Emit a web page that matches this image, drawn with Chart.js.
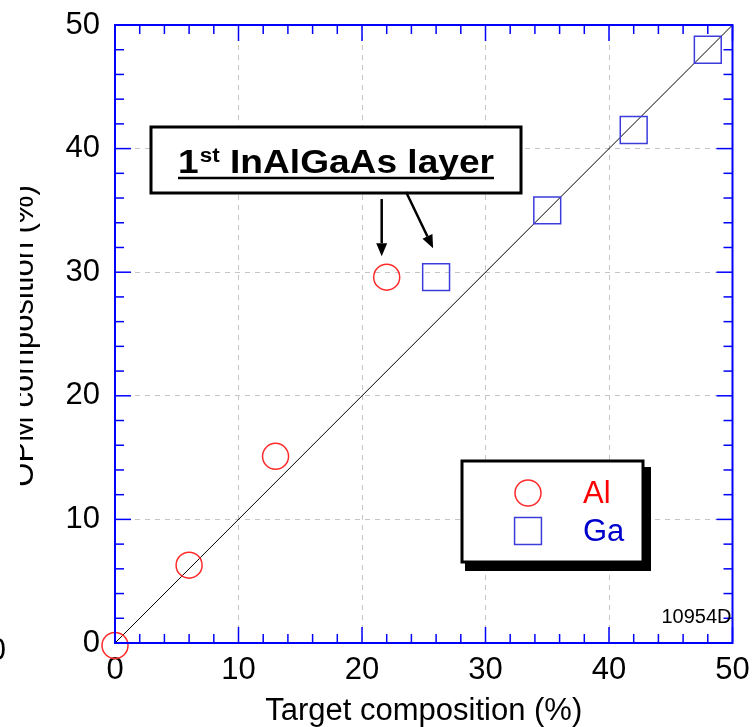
<!DOCTYPE html>
<html>
<head>
<meta charset="utf-8">
<script src="https://cdn.jsdelivr.net/npm/chart.js@4.4.0/dist/chart.umd.min.js"></script>
<style>
  html, body { margin: 0; padding: 0; background: #fff; }
  #grafico { display: block; }
</style>
</head>
<body>
<canvas id="grafico" width="753" height="727"></canvas>
<script>
// Dados
const alTarget = [0, 6, 13, 22];
const alOpm = [-0.2, 6.3, 15.1, 29.6];
const gaTarget = [26, 35, 42, 48];
const gaOpm = [29.6, 35, 41.5, 48];
const idealX = [0, 50];
const idealY = [0, 50];
const axisTicks = [0, 10, 20, 30, 40, 50];

const FONTE = '"Liberation Sans", Arial, sans-serif';
const AZUL = "#0000ff";

function pontos(xs, ys) {
  return xs.map((v, i) => ({ x: v, y: ys[i] }));
}

function linha(ctx, x1, y1, x2, y2) {
  ctx.beginPath();
  ctx.moveTo(x1, y1);
  ctx.lineTo(x2, y2);
  ctx.stroke();
}

function seta(ctx, x1, y1, x2, y2) {
  const ang = Math.atan2(y2 - y1, x2 - x1);
  const cab = 13;
  const bx = x2 - cab * Math.cos(ang);
  const by = y2 - cab * Math.sin(ang);
  ctx.lineWidth = 2.5;
  linha(ctx, x1, y1, bx, by);
  ctx.beginPath();
  ctx.moveTo(x2, y2);
  ctx.lineTo(bx + 5.5 * Math.sin(ang), by - 5.5 * Math.cos(ang));
  ctx.lineTo(bx - 5.5 * Math.sin(ang), by + 5.5 * Math.cos(ang));
  ctx.closePath();
  ctx.fill();
}

// Moldura azul, ticks internos, legenda, anotação
const extras = {
  id: "extras",
  afterDraw(chart) {
    const { ctx, chartArea: a, scales } = chart;
    const x = scales.x, y = scales.y;
    ctx.save();

    // ticks menores e maiores nos quatro lados
    ctx.strokeStyle = AZUL;
    ctx.lineWidth = 1.5;
    for (let v = 0; v <= 50; v += 2) {
      const len = v % 10 === 0 ? 16 : 9;
      const px = x.getPixelForValue(v);
      const py = y.getPixelForValue(v);
      linha(ctx, px, a.bottom, px, a.bottom - len);
      linha(ctx, px, a.top, px, a.top + len);
      linha(ctx, a.left, py, a.left + len, py);
      linha(ctx, a.right, py, a.right - len, py);
    }
    ctx.lineWidth = 2;
    ctx.strokeRect(a.left, a.top, a.right - a.left, a.bottom - a.top);

    // título do eixo y (cortado na borda como no original)
    ctx.save();
    ctx.beginPath();
    ctx.rect(20, 0, 100, 727);
    ctx.clip();
    ctx.translate(33, (a.top + a.bottom) / 2 + 2);
    ctx.rotate(-Math.PI / 2);
    ctx.fillStyle = "#000";
    ctx.font = "31px " + FONTE;
    ctx.textAlign = "center";
    ctx.textBaseline = "alphabetic";
    ctx.fillText("OPM composition (%)", 0, 0);
    ctx.restore();

    // fragmento à esquerda
    ctx.fillStyle = "#000";
    ctx.font = "31px " + FONTE;
    ctx.textAlign = "right";
    ctx.textBaseline = "middle";
    ctx.fillText("0", 6, a.bottom + 8);

    // caixa "1st InAlGaAs layer"
    const bx1 = a.left + 36, by1 = a.top + 102, bx2 = a.left + 406, by2 = a.top + 168;
    ctx.fillStyle = "#fff";
    ctx.fillRect(bx1, by1, bx2 - bx1, by2 - by1);
    ctx.strokeStyle = "#000";
    ctx.lineWidth = 3;
    ctx.strokeRect(bx1, by1, bx2 - bx1, by2 - by1);

    ctx.fillStyle = "#000";
    ctx.textBaseline = "alphabetic";
    ctx.textAlign = "left";
    const base = a.top + 148;
    const fGrande = "bold 33px " + FONTE;
    const fSup = "bold 20px " + FONTE;
    ctx.font = fGrande;
    const w1 = ctx.measureText("1").width;
    const w3 = ctx.measureText(" InAlGaAs layer").width;
    ctx.font = fSup;
    const w2 = ctx.measureText("st").width;
    const total = w1 + w2 + w3 + 1;
    const largura = 316;
    const esc = largura / total;
    ctx.save();
    ctx.translate((bx1 + bx2) / 2 - largura / 2, base);
    ctx.scale(esc, 1);
    let tx = 0;
    ctx.font = fGrande;
    ctx.fillText("1", tx, 0);
    tx += w1 + 1;
    ctx.font = fSup;
    ctx.fillText("st", tx, -11);
    tx += w2;
    ctx.font = fGrande;
    ctx.fillText(" InAlGaAs layer", tx, 0);
    ctx.restore();
    ctx.lineWidth = 2.5;
    linha(ctx, (bx1 + bx2) / 2 - largura / 2, base + 5, (bx1 + bx2) / 2 + largura / 2, base + 5);

    // setas apontando para a primeira camada
    const alX = x.getPixelForValue(alTarget[3]);
    const alY = y.getPixelForValue(alOpm[3]);
    const gaX = x.getPixelForValue(gaTarget[0]);
    const gaY = y.getPixelForValue(gaOpm[0]);
    seta(ctx, alX - 5, by2 + 6, alX - 5, alY - 21);
    seta(ctx, gaX - 30, by2 - 1, gaX - 3, gaY - 29);

    // legenda com sombra
    const lx1 = a.left + 347, ly1 = a.top + 436, lx2 = a.left + 528, ly2 = a.top + 537;
    ctx.fillStyle = "#000";
    ctx.fillRect(lx1 + 3, ly1 + 6, lx2 - lx1 + 5, ly2 - ly1 + 3);
    ctx.fillStyle = "#fff";
    ctx.fillRect(lx1, ly1, lx2 - lx1, ly2 - ly1);
    ctx.lineWidth = 3;
    ctx.strokeStyle = "#000";
    ctx.strokeRect(lx1, ly1, lx2 - lx1, ly2 - ly1);

    chart.data.datasets.slice(0, 2).forEach((ds, i) => {
      const cy = ly1 + 32 + i * 38;
      const cx = lx1 + 66;
      ctx.strokeStyle = ds.borderColor;
      ctx.lineWidth = ds.borderWidth;
      ctx.fillStyle = "rgba(0,0,0,0)";
      Chart.helpers.drawPoint(ctx, {
        pointStyle: ds.pointStyle,
        radius: ds.pointRadius,
        borderWidth: ds.borderWidth,
        rotation: 0
      }, cx, cy);
      ctx.fillStyle = ds.textColor;
      ctx.font = "31px " + FONTE;
      ctx.textAlign = "left";
      ctx.textBaseline = "middle";
      ctx.fillText(ds.label, lx1 + 121, cy + 1);
    });

    // código da figura
    ctx.fillStyle = "#000";
    ctx.font = "20px " + FONTE;
    ctx.textAlign = "right";
    ctx.textBaseline = "middle";
    ctx.fillText("10954D", a.right - 1, a.bottom - 26);

    ctx.restore();
  }
};

new Chart(document.getElementById("grafico"), {
  type: "scatter",
  data: {
    datasets: [
      {
        label: "Al",
        data: pontos(alTarget, alOpm),
        pointStyle: "circle",
        pointRadius: 13,
        pointHoverRadius: 13,
        borderColor: "#ff2a2a",
        backgroundColor: "rgba(0,0,0,0)",
        borderWidth: 1.5,
        textColor: "#ff0000",
        clip: false,
        order: 1
      },
      {
        label: "Ga",
        data: pontos(gaTarget, gaOpm),
        pointStyle: "rect",
        pointRadius: 19,
        pointHoverRadius: 19,
        borderColor: "#3c3cdc",
        backgroundColor: "rgba(0,0,0,0)",
        borderWidth: 1.5,
        textColor: "#0000cc",
        clip: false,
        order: 1
      },
      {
        type: "line",
        label: "ideal",
        data: pontos(idealX, idealY),
        borderColor: "#000",
        borderWidth: 1,
        pointRadius: 0,
        showLine: true,
        order: 2
      }
    ]
  },
  options: {
    responsive: false,
    animation: false,
    devicePixelRatio: 1,
    layout: { padding: { top: 25, right: 18, left: 0, bottom: 0 } },
    plugins: {
      legend: { display: false },
      tooltip: { enabled: false }
    },
    scales: {
      x: {
        type: "linear",
        min: 0,
        max: 50,
        afterBuildTicks: (s) => { s.ticks = axisTicks.map((v) => ({ value: v })); },
        afterFit: (s) => {
          s.height = 84;
          s.paddingLeft = 0;
          s.paddingRight = 0;
        },
        ticks: { font: { family: FONTE, size: 31 }, color: "#000", padding: 9, maxRotation: 0 },
        grid: {
          drawTicks: false,
          lineWidth: 1,
          color: (c) => (c.tick && (c.tick.value === 0 || c.tick.value === 50) ? "rgba(0,0,0,0)" : "#c4c4c4")
        },
        border: { display: false, dash: [5, 5] },
        title: {
          display: true,
          text: "Target composition (%)",
          font: { family: FONTE, size: 31, lineHeight: 1 },
          color: "#000",
          padding: 0
        }
      },
      y: {
        type: "linear",
        min: 0,
        max: 50,
        afterBuildTicks: (s) => { s.ticks = axisTicks.map((v) => ({ value: v })); },
        afterFit: (s) => {
          s.width = 115;
          s.paddingTop = 0;
          s.paddingBottom = 0;
        },
        ticks: { font: { family: FONTE, size: 31 }, color: "#000", padding: 15 },
        grid: {
          drawTicks: false,
          lineWidth: 1,
          color: (c) => (c.tick && (c.tick.value === 0 || c.tick.value === 50) ? "rgba(0,0,0,0)" : "#c4c4c4")
        },
        border: { display: false, dash: [5, 5] }
      }
    }
  },
  plugins: [extras]
});
</script>
</body>
</html>
